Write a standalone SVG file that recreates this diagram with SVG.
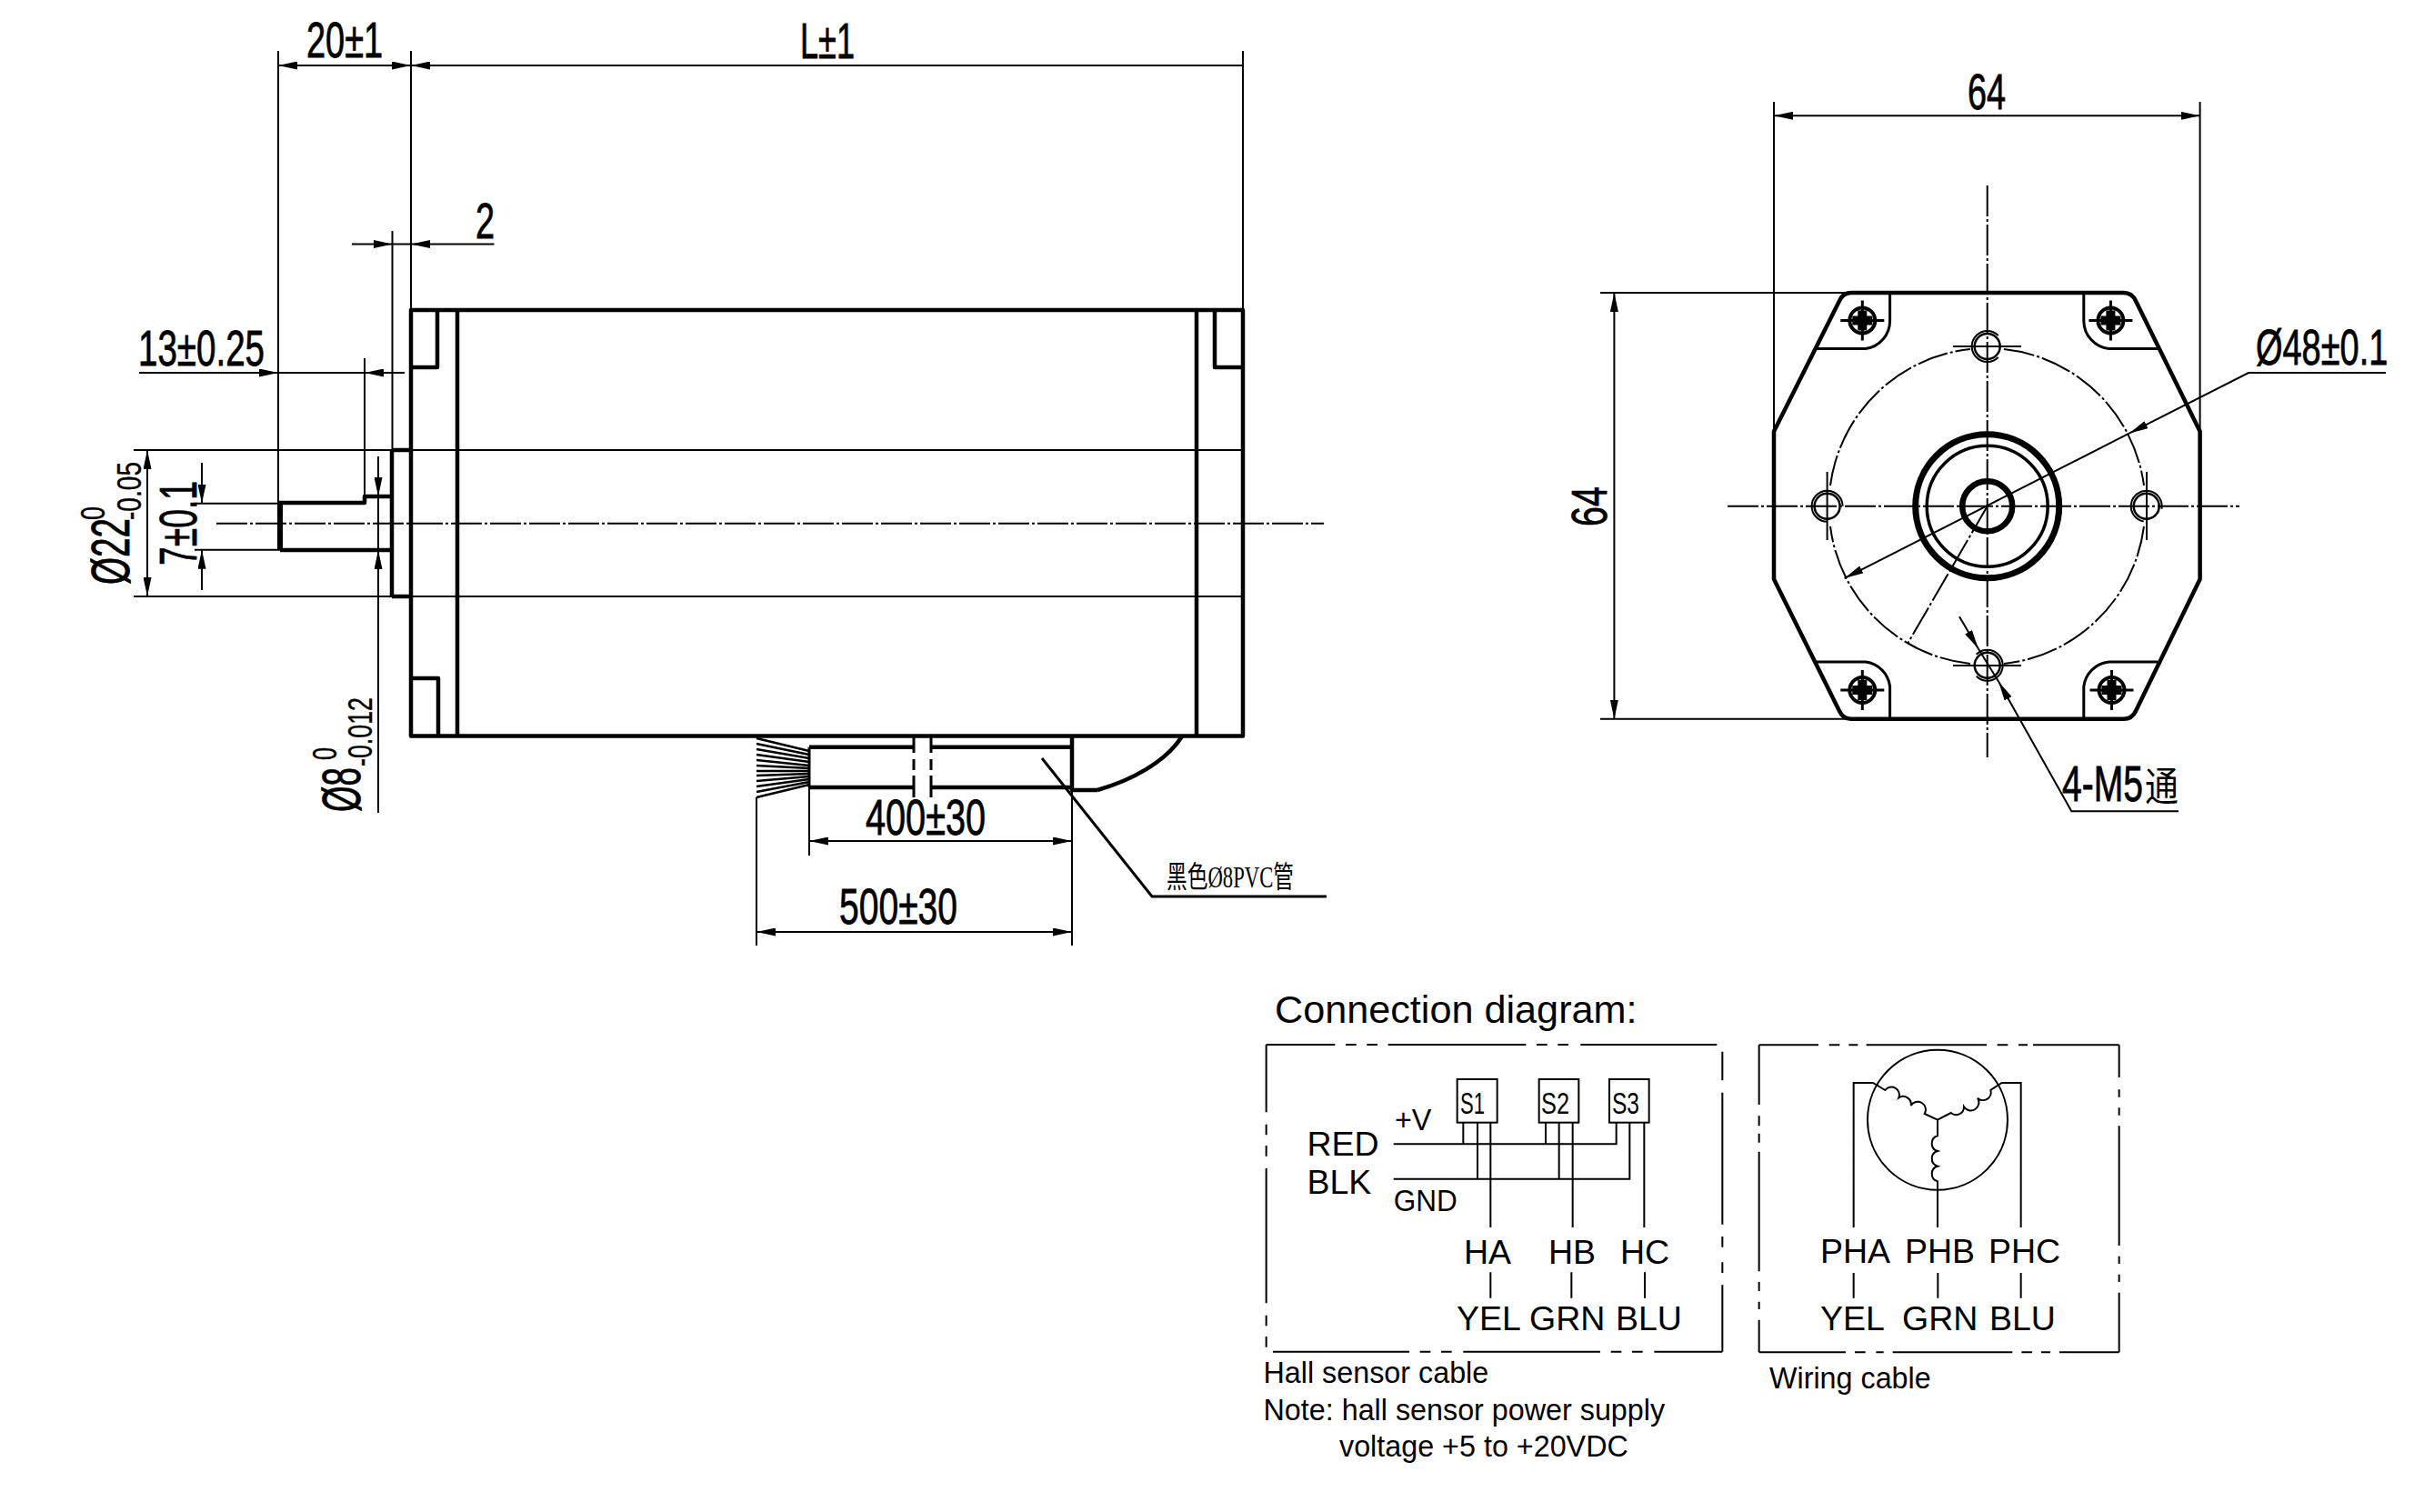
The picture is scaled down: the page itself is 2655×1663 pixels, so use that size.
<svg xmlns="http://www.w3.org/2000/svg" width="2655" height="1663" viewBox="0 0 2655 1663">
<defs>
<style>
.t{stroke:#000;stroke-width:2;fill:none}
.m{stroke:#000;stroke-width:3;fill:none}
.k{stroke:#000;stroke-width:4.5;fill:none;stroke-linejoin:round}
.c{stroke:#000;stroke-width:2;fill:none;stroke-dasharray:34 3 3 3}
.d{font-family:"Liberation Sans",Arial,sans-serif;font-size:55px;fill:#000;stroke:#000;stroke-width:.8}
.s{font-family:"Liberation Sans",Arial,sans-serif;font-size:37px;fill:#000;stroke:#000;stroke-width:.4}
.n{font-family:"Liberation Sans",Arial,sans-serif;font-size:37.5px;fill:#000}
.p{font-family:"Liberation Sans",Arial,sans-serif;font-size:32.3px;fill:#000}
.w{stroke:#000;stroke-width:6;fill:none}
</style>
<marker id="ah" markerUnits="userSpaceOnUse" markerWidth="22" markerHeight="9" refX="21" refY="4.5" orient="auto-start-reverse"><path d="M0,0 L21,4.5 L0,9 Z" fill="#000"/></marker>
<g id="screw">
<circle r="14" fill="#fff" stroke="#000" stroke-width="4"/>
<path d="M-24,0H24M0,-22V22" class="m"/>
<path d="M-4,-10H4V-4H10V4H4V10H-4V4H-10V-4H-4Z" fill="#000" stroke="#000" stroke-width="2"/>
</g>
</defs>
<rect width="2655" height="1663" fill="#fff"/>

<g id="side-view">
<path class="k" d="M452,341H1367V809.5H452Z"/>
<path class="k" d="M503,341V809.5M1316,341V809.5"/>
<path class="k" stroke-width="4" d="M452,404H481V341M1336,341V404H1367M452,746H482V809.5"/>
<path class="k" d="M431,495H452M431,656H452M431,495V656"/>
<path class="k" d="M306,553H401V546H431M308,605H431"/>
<path d="M308,553V605" stroke="#000" stroke-width="6" fill="none"/>
<path class="t" d="M147,495H1367M147,656H1367"/>
<path class="c" d="M238,575.7H1456"/>
</g>

<g id="cable">
<path class="k" d="M890,821.7H1004M1025,821.7H1179M890,866H1004M1025,866H1179M1179,810V869H1207"/>
<path class="m" d="M890,821.7V866"/>
<path class="k" d="M1207,869C1245,858 1282,838 1300,810"/>
<path class="m" d="M1005,810V828M1005,835V847M1005,853V877M1024,810V828M1024,835V847M1024,853V877"/>
<path stroke="#000" stroke-width="2.6" fill="none" d="M890,826L832,812M890,830L832,818M890,834L832,824M890,838L832,830M890,842L832,836M890,845L832,842M890,848L832,848M890,851L832,853M890,854L832,859M890,857L832,865M890,860L832,871M890,863L832,877"/>
<path class="m" d="M1146,834L1267,986H1459"/>
</g>

<g id="front-view">
<path class="k" d="M2036,322H2335.7Q2345,322 2349,331L2419.6,474.6V637L2349,782Q2345,790.7 2335.7,790.7H2036Q2027,790.7 2023,782L1951,637V474.6L2023,331Q2027,322 2036,322Z"/>
<path class="m" stroke-width="3.5" d="M2078.6,322V353A31,31 0 0 1 2051.8,383.6H1998M2291.8,322V353A31,31 0 0 0 2319.6,383.6H2373M1998,728H2051.8A31,31 0 0 1 2078.6,755V790.7M2373,728H2319.6A31,31 0 0 0 2291.8,755V790.7"/>
<use href="#screw" x="2048.3" y="352.5"/>
<use href="#screw" x="2321.4" y="352.5"/>
<use href="#screw" x="2048.3" y="759"/>
<use href="#screw" x="2322.5" y="759"/>
<circle cx="2185.7" cy="556.8" r="79" fill="none" stroke="#000" stroke-width="7"/>
<circle cx="2185.7" cy="556.8" r="66.5" fill="none" stroke="#000" stroke-width="3.5"/>
<circle cx="2185.7" cy="556.8" r="27.5" fill="none" stroke="#000" stroke-width="6.5"/>
<path class="c" d="M2185.7,204V833M1900,556.8H2463"/>
<path class="c" d="M2204,384A174,174 0 0 1 2358,534M2358,579A174,174 0 0 1 2204,730M2167,730A174,174 0 0 1 2013,579M2013,534A174,174 0 0 1 2167,384"/>
<path class="c" d="M2185.7,556.8L2098,708"/>
<g id="holes" fill="none" stroke="#000">
<circle cx="2185.7" cy="381" r="14" stroke-width="2.5"/><circle r="17" pathLength="100" stroke-dasharray="75 25" stroke-width="2" transform="translate(2185.7,381) rotate(45)"/>
<circle cx="2360.7" cy="556.8" r="14" stroke-width="2.5"/><circle r="17" pathLength="100" stroke-dasharray="75 25" stroke-width="2" transform="translate(2360.7,556.8) rotate(100)"/>
<circle cx="2009.6" cy="556.8" r="14" stroke-width="2.5"/><circle r="17" pathLength="100" stroke-dasharray="75 25" stroke-width="2" transform="translate(2009.6,556.8) rotate(90)"/>
<circle cx="2185.7" cy="731.8" r="14" stroke-width="2.5"/><circle r="17" pathLength="100" stroke-dasharray="75 25" stroke-width="2" transform="translate(2185.7,731.8) rotate(225)"/>
</g>
<path class="t" d="M2148,381H2223M2148,732H2223M2009.6,519V594M2361,519V594"/>
</g>

<g id="connectors">
<path class="t" d="M306,56V553M452,56V341M1367,56V341M431.5,254V495M401,394V546"/>
<path class="t" d="M306,72H452" marker-start="url(#ah)" marker-end="url(#ah)"/>
<path class="t" d="M1367,72H452" marker-end="url(#ah)"/>
<path class="t" d="M387,268.5H431.5" marker-end="url(#ah)"/>
<path class="t" d="M543.5,268.5H452" marker-end="url(#ah)"/>
<path class="t" d="M431.5,268.5H452"/>
<path class="t" d="M153,410H306" marker-end="url(#ah)"/>
<path class="t" d="M306,410H401"/>
<path class="t" d="M445,410H401" marker-end="url(#ah)"/>
<path class="t" d="M162,495V656" marker-start="url(#ah)" marker-end="url(#ah)"/>
<path class="t" d="M214,553.7H306M214,604.7H308"/>
<path class="t" d="M222,509V553.7" marker-end="url(#ah)"/>
<path class="t" d="M222,649V604.7" marker-end="url(#ah)"/>
<path class="t" d="M416,502V546" marker-end="url(#ah)"/>
<path class="t" d="M416,894V605" marker-end="url(#ah)"/>
<path class="t" d="M416,546V605"/>
<path class="t" d="M890,866V941M1179,869V1040M832,877V1040"/>
<path class="t" d="M890,925H1179" marker-start="url(#ah)" marker-end="url(#ah)"/>
<path class="t" d="M832,1025H1179" marker-start="url(#ah)" marker-end="url(#ah)"/>
<path class="t" d="M1951,112V474M2419.6,112V474M1760,322H2032M1760,790.7H2032"/>
<path class="t" d="M1951,127.3H2419.6" marker-start="url(#ah)" marker-end="url(#ah)"/>
<path class="t" d="M1775.4,322V790.7" marker-start="url(#ah)" marker-end="url(#ah)"/>
<path class="t" d="M2624,410H2473L2341.7,476.7" marker-end="url(#ah)"/>
<path class="t" d="M2341.7,476.7L2028.6,636" marker-end="url(#ah)"/>
<path class="t" d="M2155,678.3L2175.7,713.3" marker-end="url(#ah)"/>
<path class="t" d="M2175.7,713.3L2198.3,750"/>
<path class="t" d="M2396,892.3H2278.3L2198.3,750" marker-end="url(#ah)"/>
</g>

<g id="dimension-text">
<text class="d" x="337" y="63" textLength="84" lengthAdjust="spacingAndGlyphs">20±1</text>
<text class="d" x="880" y="64" textLength="60" lengthAdjust="spacingAndGlyphs">L±1</text>
<text class="d" x="523" y="262" textLength="21" lengthAdjust="spacingAndGlyphs">2</text>
<text class="d" x="152" y="402" textLength="139" lengthAdjust="spacingAndGlyphs">13±0.25</text>
<text class="d" transform="translate(142,643) rotate(-90)" textLength="73" lengthAdjust="spacingAndGlyphs" style="font-size:59px">Ø22</text>
<text class="s" transform="translate(115,572) rotate(-90)" textLength="15" lengthAdjust="spacingAndGlyphs">0</text>
<text class="s" transform="translate(155,572) rotate(-90)" textLength="64" lengthAdjust="spacingAndGlyphs">-0.05</text>
<text class="d" transform="translate(216,622) rotate(-90)" textLength="93" lengthAdjust="spacingAndGlyphs" style="font-size:58px">7±0.1</text>
<text class="d" transform="translate(396,893) rotate(-90)" textLength="49" lengthAdjust="spacingAndGlyphs" style="font-size:59px">Ø8</text>
<text class="s" transform="translate(370,836) rotate(-90)" textLength="14" lengthAdjust="spacingAndGlyphs">0</text>
<text class="s" transform="translate(409,843) rotate(-90)" textLength="76" lengthAdjust="spacingAndGlyphs">-0.012</text>
<text class="d" x="952" y="918" textLength="132" lengthAdjust="spacingAndGlyphs">400±30</text>
<text class="d" x="923" y="1016" textLength="130" lengthAdjust="spacingAndGlyphs">500±30</text>
<text x="1283" y="976" font-family="'Liberation Serif','Noto Sans CJK SC',serif" font-size="33" textLength="140" lengthAdjust="spacingAndGlyphs">黑色Ø8PVC管</text>
<text class="d" x="2164" y="120" textLength="42" lengthAdjust="spacingAndGlyphs">64</text>
<text class="d" transform="translate(1767,579) rotate(-90)" textLength="44" lengthAdjust="spacingAndGlyphs">64</text>
<text class="d" transform="translate(2481,400.7) scale(.69,1)">Ø48±0.1</text>
<text class="d" transform="translate(2268,881) scale(.71,1)">4-M5</text>
<text transform="translate(2359,881) scale(.84,1)" font-family="'Noto Sans CJK SC',sans-serif" font-size="44">通</text>
</g>

<g id="hall-diagram">
<text x="1402" y="1125" font-family="'Liberation Sans',Arial,sans-serif" font-size="43.2">Connection diagram:</text>
<g transform="translate(1380,1080) scale(0.33333)">
<path class="w" d="M38,207H265M300,207H335M370,207H405M440,207H895M930,207H965M1000,207H1035M1075,207H1525M38,207V430M38,470V505M38,540V575M38,615V1060M38,1100V1135M38,1170V1205M1543,230V325M1543,365V800M1543,840V875M1543,925V960M1543,1000V1220M60,1220H510M545,1220H580M615,1220H650M688,1220H1140M1175,1220H1210M1245,1220H1280M1318,1220H1543"/>
<rect class="w" x="668" y="321" width="132" height="143"/>
<rect class="w" x="938" y="321" width="131" height="143"/>
<rect class="w" x="1170" y="321" width="131" height="143"/>
<path class="w" d="M458,535H1193V464M688,464V535M960,464V535M458,650H1237V464M735,464V650M1004,464V650M778,464V810M1049,464V810M1285,464V810M778,958V1043M1045,958V1043M1287,958V1043"/>
</g>
<text x="1606" y="1225" font-family="'Liberation Sans',Arial,sans-serif" font-size="33" textLength="27" lengthAdjust="spacingAndGlyphs">S1</text>
<text x="1695" y="1225" font-family="'Liberation Sans',Arial,sans-serif" font-size="33" textLength="31" lengthAdjust="spacingAndGlyphs">S2</text>
<text x="1773" y="1225" font-family="'Liberation Sans',Arial,sans-serif" font-size="33" textLength="30" lengthAdjust="spacingAndGlyphs">S3</text>
<text class="n" x="1437.5" y="1270.7">RED</text>
<text class="n" x="1437.5" y="1313.3">BLK</text>
<text class="p" x="1534" y="1243">+V</text>
<text class="p" x="1532.7" y="1331.7" textLength="70" lengthAdjust="spacingAndGlyphs">GND</text>
<text class="n" x="1610" y="1390">HA</text>
<text class="n" x="1703" y="1390">HB</text>
<text class="n" x="1782" y="1390">HC</text>
<text class="n" x="1602" y="1462.7">YEL</text>
<text class="n" x="1682" y="1462.7">GRN</text>
<text class="n" x="1777" y="1462.7">BLU</text>
<text class="p" x="1389.5" y="1521">Hall sensor cable</text>
<text class="p" x="1389.5" y="1561.7">Note: hall sensor power supply</text>
<text class="p" x="1473" y="1601.7">voltage +5 to +20VDC</text>
</g>

<g id="wiring-diagram">
<g transform="translate(1900,1130) scale(0.33333)">
<path class="w" d="M104,58H300M335,58H370M400,58H430M458,58H855M890,58H925M960,58H990M1008,58H1292M104,58V255M104,292V325M104,350V380M104,410V805M104,840V870M104,905V930M104,965V1072M1292,58V165M1292,205V230M1292,265V290M1292,325V720M1292,755V780M1292,815V840M1292,875V1072M104,1072H390M420,1072H455M490,1072H515M545,1072H940M970,1072H1005M1035,1072H1065M1095,1072H1292"/>
<circle class="w" cx="693" cy="305" r="231"/>
<path class="w" d="M416,660V183H480L520,207A26,26 0 0 1 565,232A26,26 0 0 1 605,258A26,26 0 0 1 650,285L693,305L737,282A26,26 0 0 0 780,262A26,26 0 0 0 825,233A26,26 0 0 0 868,207L905,183H968V660M693,305V358A26,26 0 0 0 693,408A26,26 0 0 0 693,458A26,26 0 0 0 693,508V660M416,810V893M694,810V893M968,810V893"/>
</g>
<text class="n" x="2002" y="1389.3">PHA</text>
<text class="n" x="2095" y="1389.3">PHB</text>
<text class="n" x="2187" y="1389.3">PHC</text>
<text class="n" x="2002" y="1462.7">YEL</text>
<text class="n" x="2092" y="1462.7">GRN</text>
<text class="n" x="2188" y="1462.7">BLU</text>
<text class="p" x="1946" y="1526.7">Wiring cable</text>
</g>
</svg>
